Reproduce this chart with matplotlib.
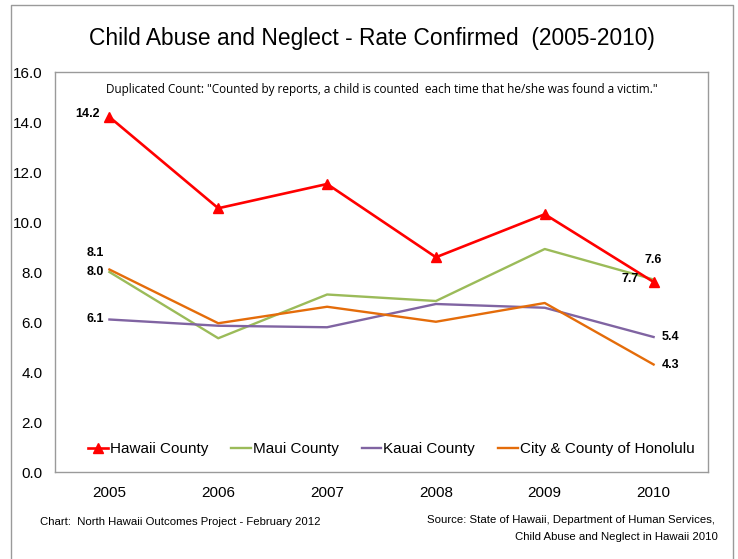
import numpy as np
import matplotlib
matplotlib.use("Agg")
from matplotlib import pyplot as plt
from matplotlib.lines import Line2D

plt.rcParams['font.family'] = ['Liberation Sans', 'DejaVu Sans']

years = ["2005", "2006", "2007", "2008", "2009", "2010"]
hawaii = [14.2, 10.55, 11.52, 8.59, 10.31, 7.6]
maui = [8.0, 5.35, 7.1, 6.84, 8.92, 7.7]
kauai = [6.1, 5.85, 5.79, 6.72, 6.57, 5.4]
honolulu = [8.1, 5.95, 6.61, 6.01, 6.76, 4.3]

W, H = 738, 559
fig = plt.figure(figsize=(W / 100, H / 100), dpi=100)
ax = fig.add_axes([55 / W, 1 - 472 / H, (708 - 55) / W, (472 - 72) / H])

x = np.arange(len(years))
ax.plot(x, maui, color="#9BBB59", lw=1.7, label="Maui County")
ax.plot(x, kauai, color="#8064A2", lw=1.7, label="Kauai County")
ax.plot(x, honolulu, color="#E46C0A", lw=1.7, label="City & County of Honolulu")
ax.plot(x, hawaii, color="#FF0000", lw=1.9, marker="^", ms=7, label="Hawaii County")

ax.set_xlim(-0.5, len(years) - 0.5)
ax.set_ylim(0, 16)
ax.set_yticks(np.arange(0, 17, 2))
ax.set_yticklabels([f"{v:.1f}" for v in np.arange(0, 17, 2)])
ax.set_xticks(x)
ax.set_xticklabels(years)
ax.tick_params(axis="both", length=0, labelsize=11)
ax.tick_params(axis="y", pad=9)
ax.tick_params(axis="x", pad=10)
for s in ax.spines.values():
    s.set_color("#9a9a9a")
    s.set_linewidth(1)

# data labels
lab = dict(fontsize=9, fontweight="bold", color="black")
ax.annotate(f"{hawaii[0]:.1f}", (0, hawaii[0]), xytext=(-7, 2), textcoords="offset points", ha="right", va="center", **lab)
ax.annotate(f"{honolulu[0]:.1f}", (0, honolulu[0]), xytext=(-4, 12), textcoords="offset points", ha="right", va="center", **lab)
ax.annotate(f"{maui[0]:.1f}", (0, maui[0]), xytext=(-4, 0), textcoords="offset points", ha="right", va="center", **lab)
ax.annotate(f"{kauai[0]:.1f}", (0, kauai[0]), xytext=(-4, 0), textcoords="offset points", ha="right", va="center", **lab)
ax.annotate(f"{hawaii[-1]:.1f}", (5, hawaii[-1]), xytext=(0, 16), textcoords="offset points", ha="center", va="center", **lab)
ax.annotate(f"{maui[-1]:.1f}", (5, maui[-1]), xytext=(-11, 0), textcoords="offset points", ha="right", va="center", **lab)
ax.annotate(f"{kauai[-1]:.1f}", (5, kauai[-1]), xytext=(6, 0), textcoords="offset points", ha="left", va="center", **lab)
ax.annotate(f"{honolulu[-1]:.1f}", (5, honolulu[-1]), xytext=(6, 0), textcoords="offset points", ha="left", va="center", **lab)

ax.text(0.5, 0.972,
        'Duplicated Count: "Counted by reports, a child is counted  each time that he/she was found a victim."',
        transform=ax.transAxes, ha="center", va="top", fontsize=8.5, family=["Open Sans", "DejaVu Sans"])

handles = [
    Line2D([], [], color="#FF0000", lw=1.9, marker="^", ms=7),
    Line2D([], [], color="#9BBB59", lw=1.7),
    Line2D([], [], color="#8064A2", lw=1.7),
    Line2D([], [], color="#E46C0A", lw=1.7),
]
names = ["Hawaii County", "Maui County", "Kauai County", "City & County of Honolulu"]
ax.legend(handles, names, loc="lower center", bbox_to_anchor=(0.515, 0.005), ncol=4, frameon=False,
          fontsize=11, handlelength=1.3, handletextpad=0.13, columnspacing=1.5)

fig.text(372 / W, 1 - 38 / H, "Child Abuse and Neglect - Rate Confirmed  (2005-2010)",
         ha="center", va="center", fontsize=16.4)
fig.text(40 / W, 1 - 522 / H, "Chart:  North Hawaii Outcomes Project - February 2012",
         ha="left", va="center", fontsize=8.2)
fig.text(715 / W, 1 - 520 / H, "Source: State of Hawaii, Department of Human Services,",
         ha="right", va="center", fontsize=8.2)
fig.text(718 / W, 1 - 537 / H, "Child Abuse and Neglect in Hawaii 2010",
         ha="right", va="center", fontsize=8.2)

# outer chart frame (bottom edge is cut off in the original)
fx0, fx1, fy0 = 11 / W, 733 / W, 1 - 5 / H
fig.add_artist(Line2D([fx0, fx0, fx1, fx1], [0, fy0, fy0, 0], transform=fig.transFigure,
                      color="#9a9a9a", lw=1))

fig.savefig("out.png", dpi=100)
